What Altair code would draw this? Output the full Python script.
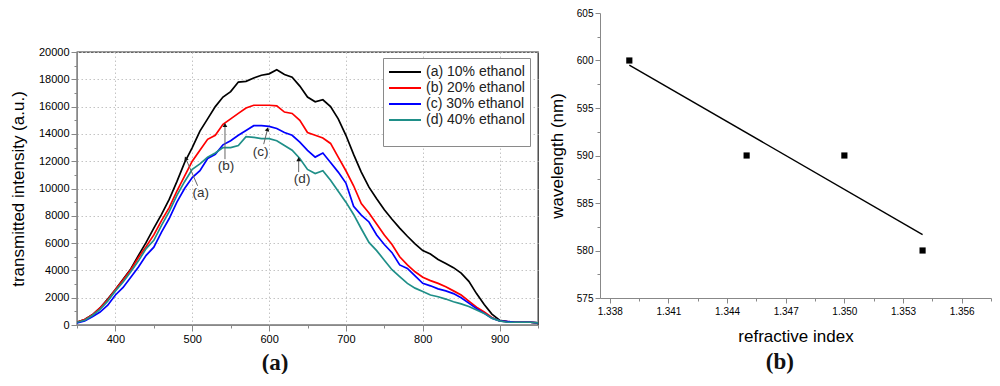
import altair as alt
import pandas as pd

# ---------------- panel (a) data ----------------
wavelength = list(range(350, 951, 10))
series_names = ["(a) 10% ethanol", "(b) 20% ethanol", "(c) 30% ethanol", "(d) 40% ethanol"]
series_colors = ["#000000", "#ff0000", "#0000ff", "#1f8f88"]

int_a = [200, 400, 750, 1250, 1900, 2600, 3350, 4100, 5100, 6050,
         7100, 8100, 9200, 10500, 11900, 13000, 14200, 15100, 16000, 16700,
         17100, 17800, 17850, 18100, 18300, 18400, 18700, 18350, 18150, 17500,
         16700, 16350, 16500, 16000, 15100, 13900, 12500, 11200, 10100, 9250,
         8450, 7750, 7100, 6500, 5950, 5450, 5200, 4800, 4500, 4200,
         3800, 3200, 2300, 1500, 800, 350, 250, 200, 200, 200, 150]
int_b = [200, 400, 750, 1250, 1850, 2600, 3300, 4050, 4950, 5750,
         6600, 7650, 8600, 9800, 10900, 12000, 12800, 13600, 13900, 14700,
         15100, 15500, 15900, 16100, 16100, 16100, 16050, 15600, 15500, 15000,
         14100, 13900, 13700, 13300, 12300, 11300, 10200, 8900, 8200, 7400,
         6600, 5900, 5000, 4400, 3900, 3500, 3250, 3050, 2800, 2500,
         2200, 1750, 1300, 950, 550, 300, 250, 200, 200, 200, 150]
int_c = [150, 300, 600, 950, 1450, 2200, 2750, 3500, 4250, 5100,
         5700, 6800, 7800, 9000, 10000, 10800, 11300, 12200, 12500, 13200,
         13500, 13900, 14250, 14600, 14600, 14550, 14400, 14100, 13900, 13400,
         12800, 12300, 12600, 11900, 11200, 10400, 8700, 8050, 7550, 6600,
         5900, 5300, 4400, 4150, 3600, 3050, 2870, 2650, 2500, 2300,
         2000, 1600, 1200, 850, 500, 300, 250, 200, 200, 200, 150]
int_d = [200, 350, 700, 1150, 1750, 2500, 3150, 3900, 4700, 5600,
         6200, 7300, 8300, 9500, 10500, 11400, 11800, 12300, 12600, 13000,
         13000, 13150, 13800, 13750, 13650, 13650, 13500, 13150, 12800, 12200,
         11400, 11100, 11300, 10600, 9800, 9000, 8100, 7050, 6050, 5450,
         4750, 4050, 3550, 3050, 2700, 2450, 2200, 2070, 1900, 1700,
         1550, 1350, 1100, 850, 500, 300, 200, 200, 200, 200, 150]

# annotations: label text position, arrow start, arrow tip
ann_labels = ["(a)", "(b)", "(c)", "(d)"]
ann_text_wl = [511, 544, 589, 643]
ann_text_i = [9700, 11650, 12700, 10700]
ann_start_wl = [507, 542.6, 593, 638.5]
ann_start_i = [10200, 12150, 13250, 11200]
ann_tip_wl = [491.5, 542.6, 598, 638.5]
ann_tip_i = [12200, 14650, 14350, 12150]
ann_head_angle = [337, 0, 15, 0]

# axis tick values (major / minor)
x_major_a = [400, 500, 600, 700, 800, 900]
x_minor_a = [350, 450, 550, 650, 750, 850, 950]
y_major_a = [0, 2000, 4000, 6000, 8000, 10000, 12000, 14000, 16000, 18000, 20000]
y_minor_a = [1000, 3000, 5000, 7000, 9000, 11000, 13000, 15000, 17000, 19000]

# ---------------- panel (b) data ----------------
refr_index = [1.339, 1.345, 1.350, 1.354]
peak_wl = [600, 590, 590, 580]
x_major_b = [1.338, 1.341, 1.344, 1.347, 1.350, 1.353, 1.356]
x_minor_b = [1.3395, 1.3425, 1.3455, 1.3485, 1.3515, 1.3545, 1.3575]
y_major_b = [575, 580, 585, 590, 595, 600, 605]
y_minor_b = [577.5, 582.5, 587.5, 592.5, 597.5, 602.5]

FONT = "Liberation Sans"
INK = "#222222"

rows = []
for name, vals in zip(series_names, [int_a, int_b, int_c, int_d]):
    for w, v in zip(wavelength, vals):
        rows.append({"wl": w, "I": v, "series": name})
df_a = pd.DataFrame(rows)

df_ann = pd.DataFrame({
    "label": ann_labels, "twl": ann_text_wl, "ti": ann_text_i,
    "swl": ann_start_wl, "si": ann_start_i,
    "ewl": ann_tip_wl, "ei": ann_tip_i, "ang": ann_head_angle,
})

xs_a = alt.Scale(domain=[350, 950], nice=False, zero=False)
ys_a = alt.Scale(domain=[0, 20000], nice=False)


def minor_axis(values, orient):
    return alt.Axis(values=values, orient=orient, labels=False, domain=False, grid=False,
                    tickSize=3, title=None)


x_axis_a = alt.Axis(
    values=x_major_a, orient="bottom", title=None, grid=True,
    gridColor="#c4c4c4", gridDash=[1.5, 2.5], gridWidth=1,
    tickSize=6, labelFontSize=11, labelPadding=2, labelFlush=False,
)
y_axis_a = alt.Axis(
    values=y_major_a, orient="left", title="transmitted intensity (a.u.)", grid=True,
    gridColor="#c4c4c4", gridDash=[1.5, 2.5], gridWidth=1, format="d",
    tickSize=6, labelFontSize=11, labelPadding=2, titleFontSize=17, titlePadding=11,
    titleFontWeight="normal",
)

lines = alt.Chart(df_a).mark_line(strokeWidth=1.7, clip=True).encode(
    x=alt.X("wl:Q", scale=xs_a, axis=x_axis_a),
    y=alt.Y("I:Q", scale=ys_a, axis=y_axis_a),
    color=alt.Color(
        "series:N",
        scale=alt.Scale(domain=series_names, range=series_colors),
        legend=alt.Legend(
            orient="none", legendX=306, legendY=45, title=" ", titleOrient="bottom",
            titleFontSize=10, titlePadding=4,
            symbolType="M-2,0H2", symbolSize=256, symbolStrokeWidth=2, symbolOffset=8,
            labelFont=FONT, labelFontSize=14, labelColor=INK, labelOffset=12,
            labelExpr="datum.label + '   '",
            rowPadding=0, padding=5, strokeColor="#8a8a8a", fillColor="white",
            labelLimit=300,
        ),
    ),
    detail="series:N",
)
minor_a = alt.Chart(df_a).mark_point(opacity=0).encode(
    x=alt.X("wl:Q", scale=xs_a, axis=minor_axis(x_minor_a, "bottom")),
    y=alt.Y("I:Q", scale=ys_a, axis=minor_axis(y_minor_a, "left")),
)

ann_rules = alt.Chart(df_ann).mark_rule(color="#666666", strokeWidth=1).encode(
    x=alt.X("swl:Q", scale=xs_a, axis=None), y=alt.Y("si:Q", scale=ys_a, axis=None),
    x2="ewl:Q", y2="ei:Q",
)
ann_heads = alt.Chart(df_ann).mark_point(shape="triangle-up", filled=True, size=22,
                                         color="#111111", opacity=1).encode(
    x=alt.X("ewl:Q", scale=xs_a, axis=None), y=alt.Y("ei:Q", scale=ys_a, axis=None),
    angle=alt.Angle("ang:Q", scale=None),
)
ann_text = alt.Chart(df_ann).mark_text(font=FONT, fontSize=13.5, color="#333333").encode(
    x=alt.X("twl:Q", scale=xs_a, axis=None), y=alt.Y("ti:Q", scale=ys_a, axis=None),
    text="label:N",
)

panel_a = alt.layer(lines, minor_a, ann_rules, ann_heads, ann_text).resolve_axis(
    x="independent", y="independent"
).properties(
    width=461, height=273,
    view=alt.ViewBackground(stroke="#333333", strokeWidth=1.3),
    title=alt.TitleParams("(a)", orient="bottom", anchor="middle", frame="bounds",
                          font="Liberation Serif", fontWeight="bold", fontSize=23,
                          color="#111111", offset=8),
)

# empty block that pushes panel (a) down relative to panel (b)
blank = alt.Chart(pd.DataFrame({"z": [0]})).mark_point(opacity=0, size=1).encode(
    x=alt.value(0), y=alt.value(0)
).properties(width=10, height=32,
             view=alt.ViewBackground(stroke="transparent", fill="transparent", strokeWidth=0))

left_col = alt.vconcat(blank, panel_a, spacing=0)

# ---------------- panel (b) ----------------
df_b = pd.DataFrame({"ri": refr_index, "pw": peak_wl})
xs_b = alt.Scale(domain=[1.3375, 1.3575], nice=False, zero=False)
ys_b = alt.Scale(domain=[575, 605], nice=False, zero=False)

x_axis_b = alt.Axis(
    values=x_major_b, orient="bottom", title="refractive index", grid=False, format=".3f",
    tickSize=5, labelFontSize=10, labelPadding=3, titleFontSize=17, titlePadding=12,
    labelFlush=False, titleFontWeight="normal",
)
y_axis_b = alt.Axis(
    values=y_major_b, orient="left", title="wavelength (nm)", grid=False,
    tickSize=5, labelFontSize=10, labelPadding=2, titleFontSize=17, titlePadding=10,
    labelFlush=False, titleFontWeight="normal",
)

pts = alt.Chart(df_b).mark_square(size=38, color="#000000", opacity=1).encode(
    x=alt.X("ri:Q", scale=xs_b, axis=x_axis_b),
    y=alt.Y("pw:Q", scale=ys_b, axis=y_axis_b),
)
minor_b = alt.Chart(df_b).mark_point(opacity=0).encode(
    x=alt.X("ri:Q", scale=xs_b, axis=minor_axis(x_minor_b, "bottom")),
    y=alt.Y("pw:Q", scale=ys_b, axis=minor_axis(y_minor_b, "left")),
)
fit = alt.Chart(df_b).transform_regression("ri", "pw").mark_line(
    color="#000000", strokeWidth=1.4).encode(
    x=alt.X("ri:Q", scale=xs_b, axis=None),
    y=alt.Y("pw:Q", scale=ys_b, axis=None),
)

panel_b = alt.layer(pts, minor_b, fit).resolve_axis(
    x="independent", y="independent"
).properties(
    width=391, height=285,
    view=alt.ViewBackground(stroke="transparent", strokeWidth=0),
    title=alt.TitleParams("(b)", orient="bottom", anchor="middle", frame="bounds",
                          font="Liberation Serif", fontWeight="bold", fontSize=23,
                          color="#111111", offset=7, dx=10),
)

chart = alt.hconcat(left_col, panel_b, spacing=6).properties(
    padding={"left": 0, "top": 0, "right": 0, "bottom": -2}
).configure_view(stroke="transparent").configure_axis(
    labelFont=FONT, titleFont=FONT, labelColor=INK, titleColor=INK,
    titleFontWeight="normal", domainColor="#333333", tickColor="#333333",
    domainWidth=1.3, tickWidth=1.1,
).configure(background="white")

chart.save("out.html", embed_options={"renderer": "svg", "actions": False})
